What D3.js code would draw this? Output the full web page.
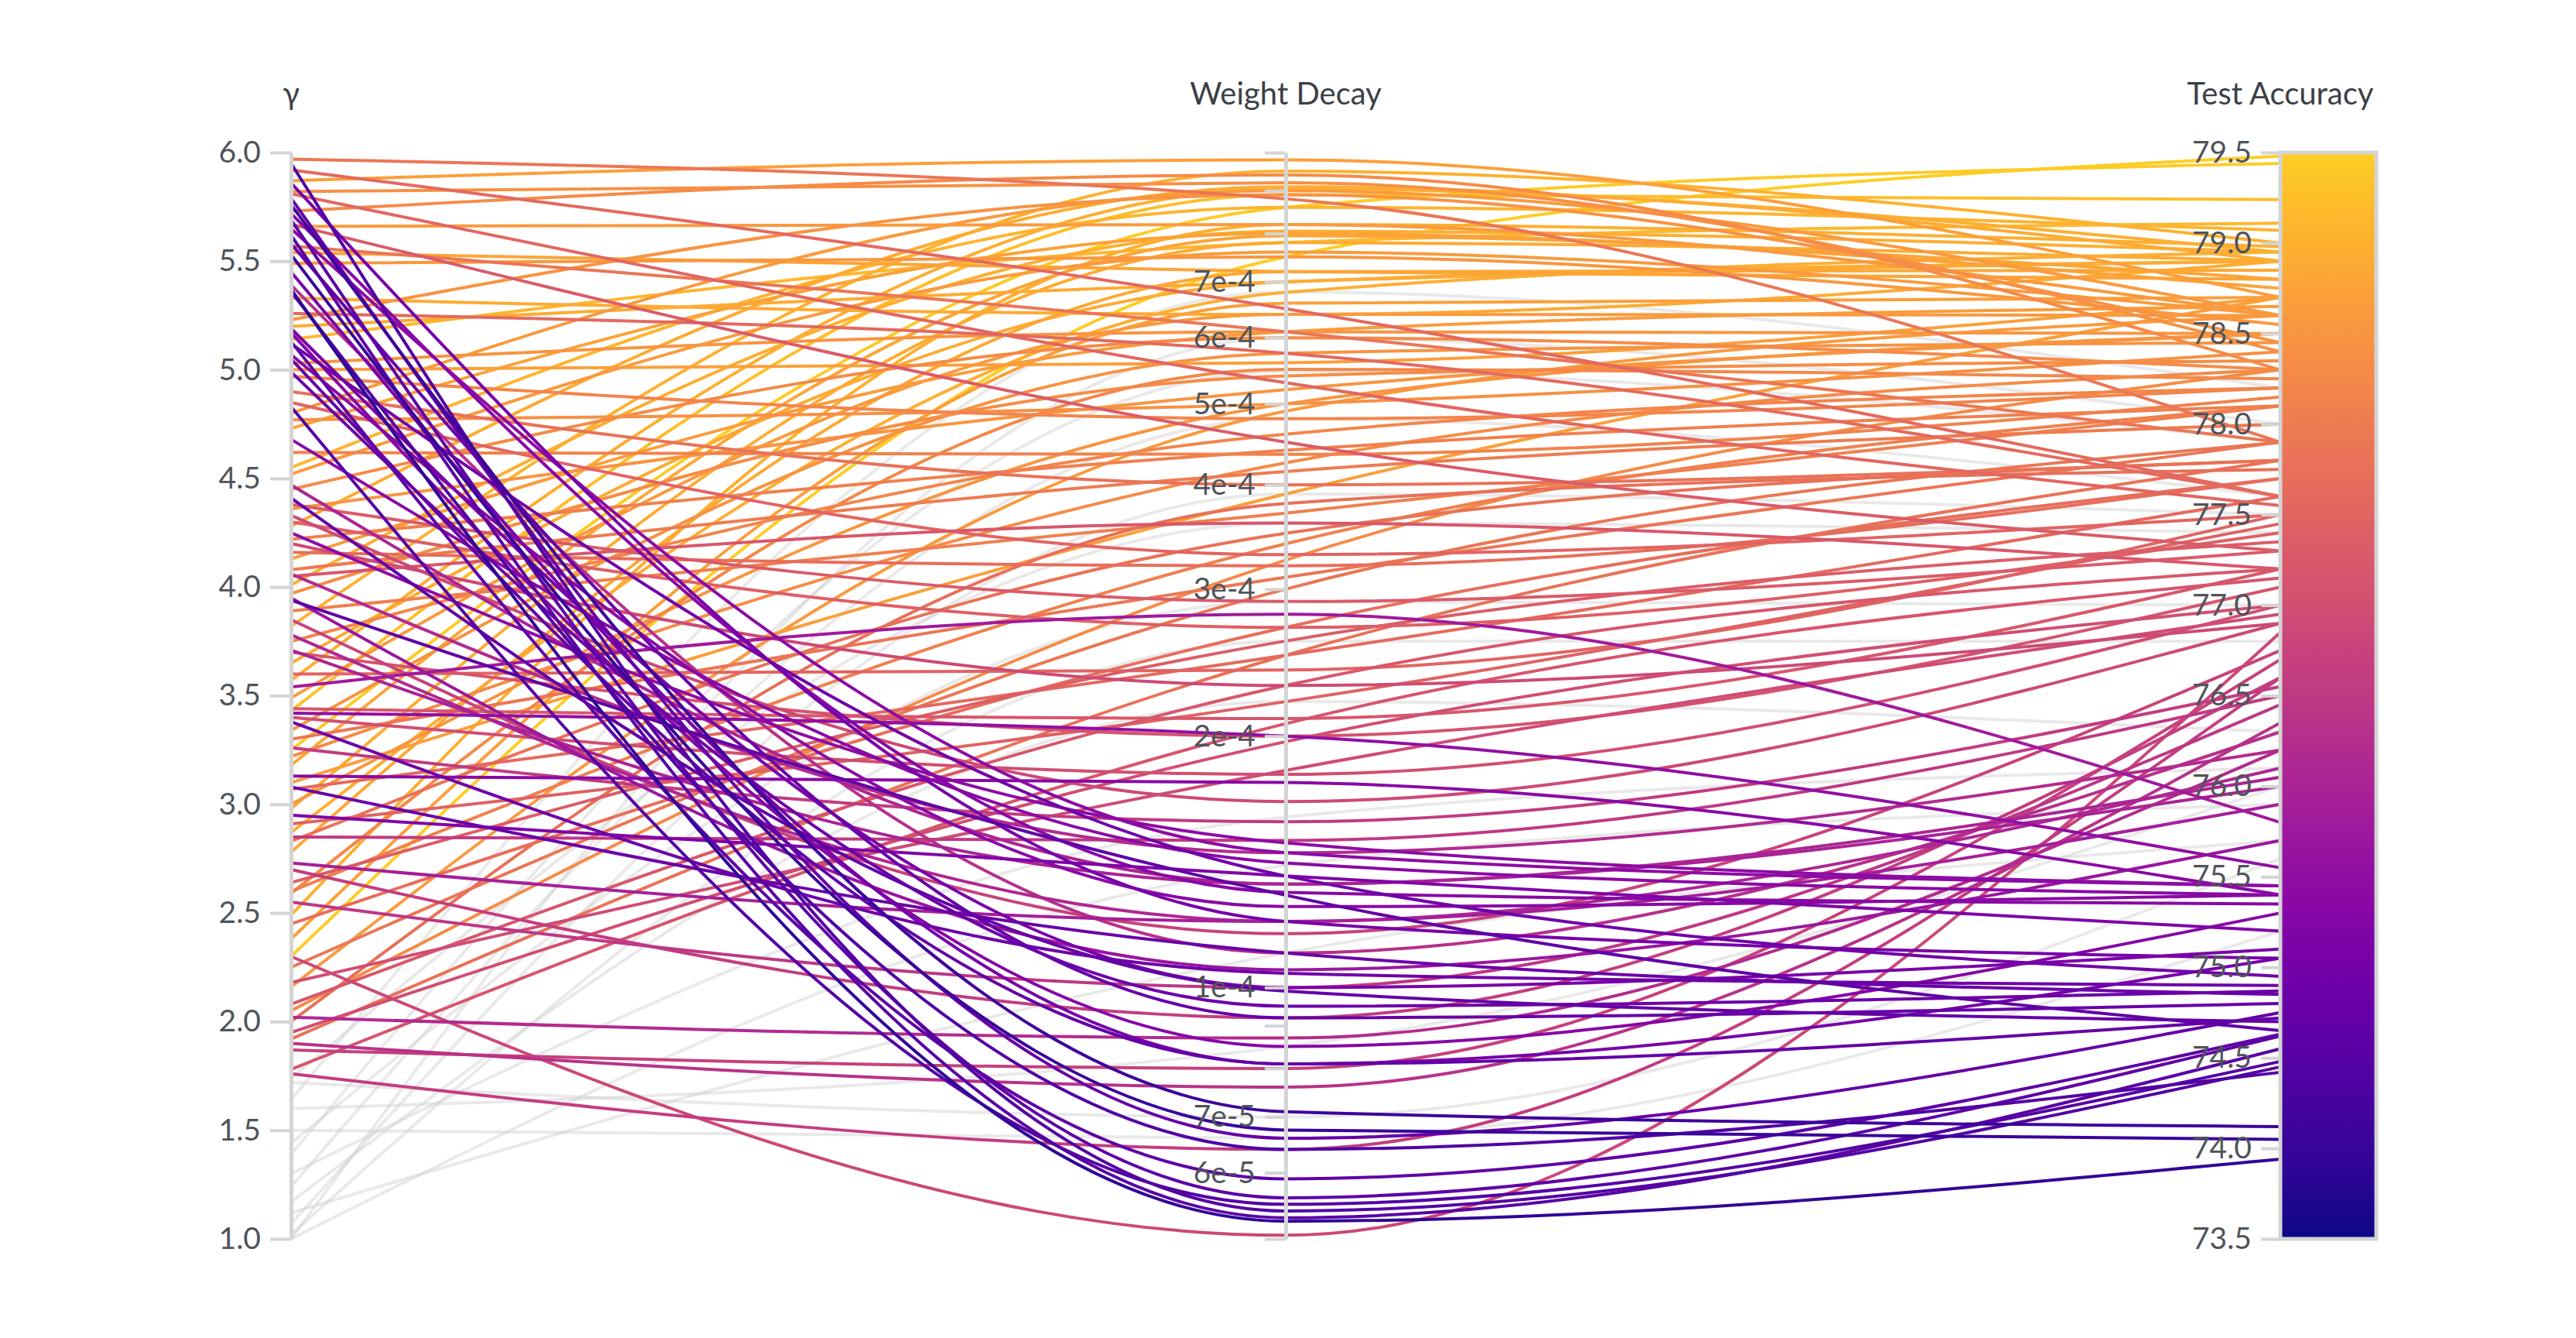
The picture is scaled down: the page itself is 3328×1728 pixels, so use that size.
<!DOCTYPE html>
<html>
<head>
<meta charset="utf-8">
<script src="https://cdn.jsdelivr.net/npm/d3@7/dist/d3.min.js"></script>
<style>
  body { margin: 0; background: #fff; }
  text { font-family: "Source Sans Pro", Lato, sans-serif; }
</style>
</head>
<body>
<div id="chart"></div>
<script>
// axes, left to right
const dimensions = ["γ", "Weight Decay", "Test Accuracy"];

// one entry per run
const gamma = [
  5.97, 5.95, 5.92, 5.87, 5.86, 5.82, 5.81, 5.79, 5.76, 5.73,
  5.72, 5.69, 5.67, 5.66, 5.65, 5.62, 5.57, 5.54, 5.53, 5.49,
  5.39, 5.37, 5.36, 5.33, 5.26, 5.23, 5.20, 5.19, 5.17, 5.14,
  5.13, 5.12, 5.07, 5.05, 5.03, 5.00, 4.99, 4.97, 4.85, 4.83,
  4.80, 4.77, 4.73, 4.68, 4.55, 4.52, 4.45, 4.41, 4.38, 4.36,
  4.33, 4.30, 4.28, 4.22, 4.16, 4.13, 4.08, 4.06, 4.01, 3.97,
  3.94, 3.89, 3.82, 3.78, 3.75, 3.71, 3.65, 3.60, 3.54, 3.49,
  3.44, 3.43, 3.42, 3.40, 3.38, 3.34, 3.26, 3.25, 3.22, 3.18,
  3.13, 3.08, 3.07, 3.00, 2.95, 2.91, 2.87, 2.83, 2.78, 2.73,
  2.70, 2.64, 2.59, 2.55, 2.49, 2.38, 2.30, 2.30, 2.25, 2.18,
  2.16, 2.08, 2.02, 2.00, 1.95, 1.90, 1.87, 1.78, 1.76, 4.62,
  3.57, 2.98, 4.90, 2.45, 3.85, 5.45, 4.47, 3.30, 2.60, 4.20,
  2.05, 3.70, 1.92, 4.05, 3.10, 2.85, 3.95, 4.25, 5.58,
  // runs below the γ cut-off (drawn grey)
  1.74, 1.72, 1.64, 1.60, 1.50, 1.44, 1.39, 1.30, 1.24, 1.17,
  1.12, 1.07, 1.02, 1.00, 1.00
];
const weightDecay = [
  8.8e-4, 5.4e-5, 6.5e-4, 9.8e-4, 1.2e-4, 9.2e-4, 5.3e-4, 6.6e-5, 7.1e-5, 9.4e-4,
  1.3e-4, 5.6e-5, 4.5e-4, 8.2e-4, 1.45e-4, 5.3e-5, 6.1e-4, 7.2e-4, 6.75e-5, 7.5e-4,
  1.1e-4, 5.25e-5, 6.4e-5, 6.4e-4, 5.75e-4, 8.9e-4, 7.0e-4, 1.0e-4, 8.5e-5, 7.8e-4,
  5.9e-5, 1.36e-4, 1.25e-4, 8.1e-5, 6.1e-4, 5.6e-4, 9.5e-5, 4.8e-4, 3.3e-4, 5.5e-5,
  9.0e-4, 5.0e-4, 8.0e-4, 1.41e-4, 8.6e-4, 7.6e-4, 6.0e-4, 9.9e-5, 2.9e-4, 5.2e-4,
  1.67e-4, 2.7e-4, 9.1e-4, 4.4e-4, 3.2e-4, 6.1e-4, 4.15e-4, 1.45e-4, 8.05e-4, 5.4e-4,
  1.29e-4, 3.7e-4, 9.5e-4, 1.2e-4, 4.6e-4, 1.33e-4, 7.0e-4, 2.4e-4, 2.8e-4, 6.4e-4,
  2.1e-4, 8.9e-4, 2.0e-4, 1.8e-4, 1.04e-4, 5.75e-4, 1.58e-4, 8.6e-4, 4.25e-4, 7.95e-4,
  1.76e-4, 1.1e-4, 2.5e-4, 5.0e-4, 1.36e-4, 2.2e-4, 6.8e-4, 3.5e-4, 7.2e-4, 1.2e-4,
  9.2e-5, 2.6e-4, 5.5e-4, 1.0e-4, 8.2e-4, 6.6e-4, 5.05e-5, 7.5e-4, 3.0e-4, 1.82e-4,
  4.9e-4, 2.3e-4, 8.7e-5, 3.8e-4, 1.97e-4, 7.6e-5, 8.0e-5, 2.07e-4, 6.4e-5, 4.35e-4,
  9.05e-4, 7.8e-4, 4.0e-4, 2.7e-4, 1.16e-4, 8.1e-5, 1.33e-4, 3.1e-4, 3.4e-4, 2.3e-4,
  3.25e-4, 2.0e-4, 2.5e-4, 3.6e-4, 3.9e-4, 1.5e-4, 1.05e-4, 1.49e-4, 9.2e-5,
  3.6e-4, 7.0e-5, 6.81e-4, 8.5e-5, 6.6e-5, 2.9e-4, 5.47e-4, 1.6e-4, 4.8e-4, 2.2e-4,
  1.1e-4, 3.9e-4, 2.6e-4, 1.4e-4, 6.0e-4
];
const testAccuracy = [
  77.90, 74.45, 77.60, 78.70, 75.05, 78.40, 77.55, 74.75, 74.12, 78.30,
  75.35, 74.62, 77.30, 78.60, 75.45, 74.55, 77.90, 78.80, 74.05, 78.55,
  76.30, 73.94, 74.42, 78.90, 77.60, 78.45, 78.90, 75.10, 75.30, 79.11,
  74.63, 74.95, 75.40, 74.72, 78.50, 78.70, 74.87, 78.20, 77.50, 74.48,
  78.60, 78.40, 78.75, 75.40, 79.07, 78.60, 78.30, 74.70, 77.30, 78.50,
  76.90, 77.40, 78.90, 78.10, 77.70, 78.65, 78.00, 76.20, 78.95, 78.35,
  74.65, 78.10, 79.00, 76.10, 78.20, 76.00, 78.90, 77.50, 75.80, 78.60,
  77.20, 79.24, 75.55, 77.00, 74.90, 78.45, 76.55, 79.44, 78.30, 78.80,
  75.40, 74.85, 77.60, 78.50, 75.20, 77.45, 78.95, 77.80, 78.85, 75.90,
  76.60, 77.35, 78.25, 76.45, 78.98, 78.70, 76.85, 79.48, 77.90, 76.95,
  78.60, 77.20, 76.20, 77.75, 77.00, 76.35, 76.70, 77.15, 76.60, 78.15,
  78.95, 78.90, 77.80, 77.70, 76.75, 75.05, 76.05, 77.90, 78.10, 76.90,
  78.30, 77.10, 77.80, 77.20, 78.70, 76.50, 75.70, 75.45, 74.80,
  77.40, 75.60, 78.20, 76.00, 75.20, 77.00, 77.90, 76.10, 77.60, 76.30,
  75.70, 77.50, 76.80, 75.90, 78.00
];

const gammaTicks = [1.0, 1.5, 2.0, 2.5, 3.0, 3.5, 4.0, 4.5, 5.0, 5.5, 6.0];
const wdTicks = [5e-5, 6e-5, 7e-5, 8e-5, 9e-5, 1e-4, 2e-4, 3e-4, 4e-4, 5e-4,
                 6e-4, 7e-4, 8e-4, 9e-4, 1e-3];
const wdLabelled = [6e-5, 7e-5, 1e-4, 2e-4, 3e-4, 4e-4, 5e-4, 6e-4, 7e-4];
const accTicks = [73.5, 74.0, 74.5, 75.0, 75.5, 76.0, 76.5, 77.0, 77.5, 78.0, 78.5, 79.0, 79.5];
const gammaCutoff = 1.75;

const width = 3328, height = 1728;
const yTop = 197, yBottom = 1600;
const barWidth = 124;

const runs = gamma.map((g, i) => ({ g: g, wd: weightDecay[i], acc: testAccuracy[i] }));

const svg = d3.select("#chart").append("svg")
    .attr("width", width)
    .attr("height", height);

const x = d3.scalePoint().domain(dimensions).range([376, 2946]);

const yGamma = d3.scaleLinear().domain([1, 6]).range([yBottom, yTop]);
const yWd = d3.scaleLog().domain([5e-5, 1e-3]).range([yBottom, yTop]);
const yAcc = d3.scaleLinear().domain([73.5, 79.5]).range([yBottom, yTop]);

const color = d3.scaleSequential(t => d3.interpolatePlasma(t * 0.9)).domain([73.5, 79.5]);

const line = d3.line().curve(d3.curveMonotoneX);
const path = d => line([
  [x("γ"), yGamma(d.g)],
  [x("Weight Decay"), yWd(d.wd)],
  [x("Test Accuracy"), yAcc(d.acc)]
]);

// grey runs first
svg.append("g").selectAll("path")
  .data(runs.filter(d => d.g < gammaCutoff))
  .enter().append("path")
    .attr("d", path)
    .attr("fill", "none")
    .attr("stroke", "#cfcfcf")
    .attr("stroke-opacity", 0.45)
    .attr("stroke-width", 4);

// coloured runs, low accuracy on top
svg.append("g").selectAll("path")
  .data(runs.filter(d => d.g >= gammaCutoff).sort((a, b) => b.acc - a.acc))
  .enter().append("path")
    .attr("d", path)
    .attr("fill", "none")
    .attr("stroke", d => color(d.acc))
    .attr("stroke-width", 4);

// colour bar on the accuracy axis
const defs = svg.append("defs");
const grad = defs.append("linearGradient")
    .attr("id", "plasma")
    .attr("x1", 0).attr("x2", 0).attr("y1", 1).attr("y2", 0);
d3.range(0, 1.0001, 0.05).forEach(t => {
  grad.append("stop")
    .attr("offset", t)
    .attr("stop-color", color(73.5 + t * 6));
});

svg.append("rect")
    .attr("x", x("Test Accuracy"))
    .attr("y", yTop)
    .attr("width", barWidth)
    .attr("height", yBottom - yTop)
    .attr("fill", "url(#plasma)")
    .attr("stroke", "#d4d4d4")
    .attr("stroke-width", 5);

function styleAxis(g) {
  g.select(".domain").attr("stroke", "#d4d4d4").attr("stroke-width", 5);
  g.selectAll(".tick line").attr("stroke", "#d4d4d4").attr("stroke-width", 4);
  g.selectAll(".tick text")
    .attr("fill", "#4f545a")
    .style("font-size", "39px");
}

svg.append("g")
    .attr("transform", `translate(${x("γ")},0)`)
    .call(d3.axisLeft(yGamma).tickValues(gammaTicks).tickFormat(d3.format(".1f"))
      .tickSize(27).tickSizeOuter(0).tickPadding(12))
    .call(styleAxis);

svg.append("g")
    .attr("transform", `translate(${x("Weight Decay")},0)`)
    .call(d3.axisLeft(yWd).tickValues(wdTicks)
      .tickFormat(d => wdLabelled.some(v => Math.abs(v - d) < 1e-9) ? d3.format(".0e")(d) : "")
      .tickSize(27).tickSizeOuter(0).tickPadding(12))
    .call(styleAxis);

svg.append("g")
    .attr("transform", `translate(${x("Test Accuracy")},0)`)
    .call(d3.axisLeft(yAcc).tickValues(accTicks).tickFormat(d3.format(".1f"))
      .tickSize(25).tickSizeOuter(0).tickPadding(12))
    .call(styleAxis)
    .select(".domain").remove();

// axis titles
svg.append("g").selectAll("text")
  .data(dimensions)
  .enter().append("text")
    .attr("x", d => x(d))
    .attr("y", 135)
    .attr("text-anchor", "middle")
    .attr("fill", "#3c4046")
    .style("font-size", "40px")
    .text(d => d);
</script>
</body>
</html>
